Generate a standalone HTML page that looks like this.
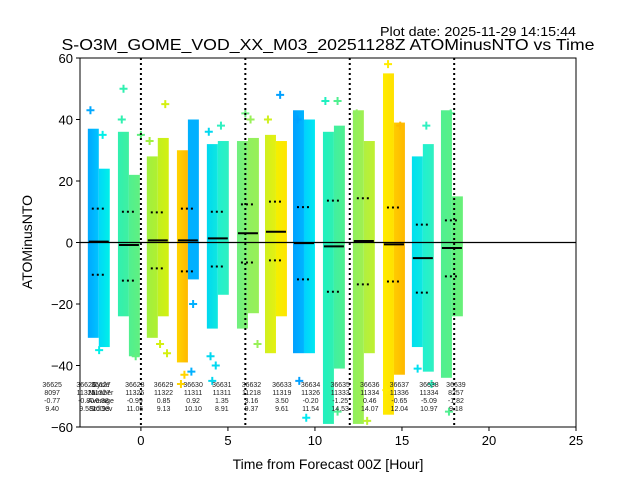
<!DOCTYPE html>
<html><head><meta charset="utf-8"><style>
html,body{margin:0;padding:0;background:#fff;}
svg{display:block;font-family:"Liberation Sans","DejaVu Sans",sans-serif;}
</style></head><body>
<svg id="chart" width="640" height="480" viewBox="0 0 640 480" xmlns="http://www.w3.org/2000/svg">
<defs id="defs"></defs>
<text x="576" y="36" font-size="13" text-anchor="end" textLength="196" lengthAdjust="spacingAndGlyphs">Plot date: 2025-11-29 14:15:44</text>
<text x="328" y="50" font-size="16" text-anchor="middle" textLength="533" lengthAdjust="spacingAndGlyphs">S-O3M_GOME_VOD_XX_M03_20251128Z ATOMinusNTO vs Time</text>
<g id="plot"></g>
<text x="328" y="469" font-size="14" text-anchor="middle">Time from Forecast 00Z [Hour]</text>
<text x="0" y="0" font-size="14" text-anchor="middle" transform="translate(32,242) rotate(-90)">ATOMinusNTO</text>
</svg>
<script>
// ---- data ----
const colStart = [-3.05,-1.32,0.34,2.07,3.79,5.52,7.13,8.74,10.46,12.18,13.91,15.57,17.24];
const colMean  = [0.3,-0.8,0.7,0.7,1.35,3.0,3.5,-0.2,-1.25,0.5,-0.6,-5.1,-1.8];
const colUpper = [11,10,9.8,11,10,12.4,13.3,11.5,13.6,14.4,11.4,5.8,7.2];
const colLower = [-10.5,-12.4,-8.4,-9.4,-7.8,-6.5,-5.8,-12,-16,-13.6,-12.7,-16.3,-11];
const topA = [37,36,28,30,32,33,35,43,36,43,55,28,43];
const botA = [-31,-24,-31,-39,-28,-28,-36,-36,-59,-59,-56,-34,-44];
const topB = [24,22,34,40,33,34,33,40,38,33,39,32,15];
const botB = [-34,-37,-24,-12,-17,-23,-24,-36,-41,-36,-43,-42,-24];
const colorsA = [["#00a8ff","#00c4ff"],["#30f0b0","#40f0a0"],["#a0f040","#b0f030"],["#ffd400","#ffb800"],["#00d8f0","#10e8e0"],["#70f080","#80f070"],["#d0f020","#e4f010"],["#00a0ff","#00b4ff"],["#20f0c0","#30f0b0"],["#90f060","#a0f050"],["#ffec00","#ffe000"],["#00e0f0","#10e8e0"],["#50f090","#58f088"]];
const colorsB = [["#00d8f8","#00f0e8"],["#50f090","#60f080"],["#c0f020","#d4f010"],["#00b0ff","#00b0ff"],["#20f0d0","#30f0c0"],["#90f060","#98f058"],["#f4f000","#ffe400"],["#00d0ff","#00e8f0"],["#40f0a0","#50f090"],["#b0f040","#c0f030"],["#ffcc00","#ffb800"],["#20f0d0","#30f0c0"],["#60f080","#68f078"]];
// outliers: [hour, value, column index]
const outX = [-2.9,-2.4,-1.0,-1.1,-0.3,0.5,1.4,1.5,2.5,2.3,2.9,3.9,4.0,4.1,4.6,6.0,6.3,6.7,7.3,8.0,9.0,9.1,9.5,10.6,11.3,11.3,12.4,13.0,14.2,14.1,14.9,15.9,16.4,16.7,17.8,17.7,-2.2,0.0,1.1,3.0,4.3];
const outY = [43,-35,50,40,-37,33,45,-36,-43,-46,-42,36,-37,-45,38,42,40,-33,40,48,40,-45,-57,46,46,-55,42,-58,58,-48,38,-41,38,-46,42,-55,35,35,-33,-20,-40];
const outC = [0,0,1,1,1,2,2,2,3,3,3,4,4,4,4,5,5,5,6,7,7,7,7,8,8,8,9,9,10,10,10,11,11,11,12,12,0,1,2,3,4];
// annotation table
const annCycle = ["36625","36626","36627","36628","36629","36630","36631","36632","36633","36634","36635","36636","36637","36638","36639"];
const annNumber = ["8097","11325","11327","11326","11322","11311","11311","11218","11319","11326","11333","11334","11336","11334","8257"];
const annAvg = ["-0.77","-0.80","-0.88","-0.99","0.85","0.92","1.35","3.16","3.50","-0.20","-1.25","0.46","-0.65","-5.09","-1.82"];
const annStd = ["9.40","9.58","10.93","11.05","9.13","10.10","8.91","9.37","9.61","11.54","14.53","14.07","12.04","10.97","9.18"];
const annHour = [-5.1,-3.15,-2.3,-0.35,1.3,3.0,4.65,6.35,8.1,9.75,11.45,13.15,14.85,16.55,18.1];
const xTicks = [0,5,10,15,20,25];
const yTicks = [-60,-40,-20,0,20,40,60];
const vLines = [0,6,12,18];

// ---- axes ----
const L=80,R=576,T=58,B=427, XMIN=-3.5,XMAX=25,YMIN=-60,YMAX=60;
const xs=v=>L+(v-XMIN)/(XMAX-XMIN)*(R-L);
const ys=v=>B-(v-YMIN)/(YMAX-YMIN)*(B-T);
const NS="http://www.w3.org/2000/svg";
const plot=document.getElementById('plot');
const defs=document.getElementById('defs');
function mk(tag,attrs,parent){const e=document.createElementNS(NS,tag);for(const k in attrs)e.setAttribute(k,attrs[k]);(parent||plot).appendChild(e);return e;}
const COLW=1.26;
function grad(id,c){const g=mk('linearGradient',{id:id,x1:'0',x2:'1',y1:'0',y2:'0'},defs);mk('stop',{offset:'0','stop-color':c[0]},g);mk('stop',{offset:'1','stop-color':c[1]},g);}
function plus(cx,cy,col){
  const p=mk('path',{d:`M${cx-4},${cy}H${cx+4}M${cx},${cy-4}V${cy+4}`,stroke:col,'stroke-width':2});
  
  
}
colStart.forEach((s,i)=>{
  const half=COLW/2;
  grad('ga'+i,colorsA[i]);grad('gb'+i,colorsB[i]);
  const ra=mk('rect',{x:xs(s),y:ys(topA[i]),width:xs(s+half)-xs(s),height:ys(botA[i])-ys(topA[i]),fill:`url(#ga${i})`});
  
  
  const rb=mk('rect',{x:xs(s+half),y:ys(topB[i]),width:xs(s+COLW)-xs(s+half),height:ys(botB[i])-ys(topB[i]),fill:`url(#gb${i})`});
  
  
});
outX.forEach((x,i)=>{const c=outC[i];const col=x<colStart[c]+COLW/2?colorsA[c][0]:colorsB[c][1];plus(xs(x),ys(outY[i]),col);});
// zero line
const z=mk('line',{x1:L,x2:R,y1:ys(0),y2:ys(0),stroke:'#000','stroke-width':1.2});


// mean / std
colStart.forEach((s,i)=>{
  const cx=xs(s+COLW/2);
  const m=mk('line',{x1:cx-10,x2:cx+10,y1:ys(colMean[i]),y2:ys(colMean[i]),stroke:'#000','stroke-width':2});
  
  
  [colUpper[i],colLower[i]].forEach(v=>{
    const d=mk('line',{x1:cx-7,x2:cx+8,y1:ys(v),y2:ys(v),stroke:'#000','stroke-width':2,'stroke-dasharray':'2,3'});
    
    
  });
});
// vertical dotted lines
vLines.forEach(v=>{
  const l=mk('line',{x1:xs(v),x2:xs(v),y1:T,y2:B,stroke:'#000','stroke-width':2,'stroke-dasharray':'2,3'});
  
  
});
// annotations
const rowY=[387,395,403,411];
function atext(x,y,t,anchor){const e=mk('text',{x:x,y:y,'font-size':7,'text-anchor':anchor||'middle',fill:'#222'});e.textContent=t;return e;}
["Cycle","Number","Average","StdDev"].forEach((t,r)=>{
  const e=atext(xs(-2.3),rowY[r],t);
  
  
});
annCycle.forEach((c,i)=>{
  const x=xs(annHour[i]);
  [c,annNumber[i],annAvg[i],annStd[i]].forEach((t,r)=>{
    const e=atext(x,rowY[r],t);
    
    
  });
});
// frame
const f=mk('rect',{x:L,y:T,width:R-L,height:B-T,fill:'none',stroke:'#000','stroke-width':1});


xTicks.forEach(v=>{
  mk('line',{x1:xs(v),x2:xs(v),y1:B,y2:B+4,stroke:'#000'});
  const t=mk('text',{x:xs(v),y:B+18,'font-size':13,'text-anchor':'middle'});t.textContent=v;
  
  
});
yTicks.forEach(v=>{
  mk('line',{x1:L-4,x2:L,y1:ys(v),y2:ys(v),stroke:'#000'});
  const t=mk('text',{x:L-7,y:ys(v)+5,'font-size':13,'text-anchor':'end'});t.textContent=v<0?'\u2212'+(-v):v;
  
  
});
</script>
</body></html>
